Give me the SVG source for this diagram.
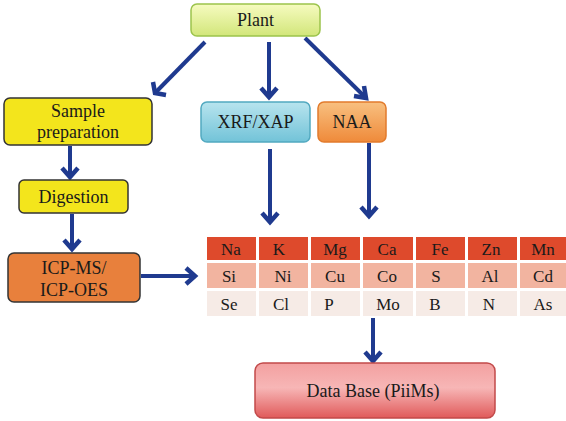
<svg xmlns="http://www.w3.org/2000/svg" width="566" height="421" viewBox="0 0 566 421">
<defs>
<linearGradient id="gPlant" x1="0" y1="0" x2="0" y2="1"><stop offset="0" stop-color="#f6fbc0"/><stop offset="1" stop-color="#d2e67a"/></linearGradient>
<linearGradient id="gXrf" x1="0" y1="0" x2="0" y2="1"><stop offset="0" stop-color="#b8e4ee"/><stop offset="1" stop-color="#72c3d8"/></linearGradient>
<linearGradient id="gNaa" x1="0" y1="0" x2="0" y2="1"><stop offset="0" stop-color="#f8c080"/><stop offset="1" stop-color="#ef8a3a"/></linearGradient>
<linearGradient id="gDb" x1="0" y1="0" x2="0" y2="1"><stop offset="0" stop-color="#f3a0a0"/><stop offset="0.45" stop-color="#f7b6b6"/><stop offset="1" stop-color="#e05a5a"/></linearGradient>
<style>
text{font-family:"Liberation Serif","DejaVu Serif",serif}
.lbl{font-size:18px;fill:#1a1a1a;text-anchor:middle}
.cell{font-size:17px;fill:#1a1a1a;text-anchor:middle}
.c{stroke:#1f3a8f;stroke-width:4;fill:none}
.h{stroke:#1f3a8f;stroke-width:4.5;fill:none;stroke-linejoin:miter;stroke-linecap:butt}
.r1{fill:#de4a2c}
.r2{fill:#f2b4a0}
.r3{fill:#f6ebe6}
</style>
</defs>
<rect width="566" height="421" fill="#ffffff"/>
<g id="connectors">
<line class="c" x1="205" y1="42" x2="156" y2="92"/>
<path class="h" d="M153,82 L155,93 L166,95"/>
<line class="c" x1="269" y1="42" x2="269" y2="96"/>
<path class="h" d="M261,88 L269,97 L277,88"/>
<line class="c" x1="305" y1="38" x2="365" y2="97"/>
<path class="h" d="M354,96 L366,98 L364,86"/>
<line class="c" x1="70" y1="146" x2="70" y2="175"/>
<path class="h" d="M62,168 L70,177 L78,168"/>
<line class="c" x1="72" y1="214" x2="72" y2="247"/>
<path class="h" d="M64,240 L72,249 L80,240"/>
<line class="c" x1="141" y1="276" x2="193" y2="276"/>
<path class="h" d="M186,268 L195,276 L186,284"/>
<line class="c" x1="270" y1="149" x2="270" y2="220"/>
<path class="h" d="M262,213 L270,222 L278,213"/>
<line class="c" x1="369" y1="143" x2="369" y2="214"/>
<path class="h" d="M361,207 L369,216 L377,207"/>
<line class="c" x1="373" y1="318" x2="373" y2="359"/>
<path class="h" d="M365,352 L373,361 L381,352"/>
</g>
<g id="plant">
<rect x="191" y="4" width="129" height="32" rx="6" fill="url(#gPlant)" stroke="#9cc44c" stroke-width="1.5"/>
<text class="lbl" x="255.5" y="26">Plant</text>
</g>
<g id="sample">
<rect x="4" y="98" width="148" height="47" rx="6" fill="#f3e51c" stroke="#333" stroke-width="1.5"/>
<text class="lbl" x="78" y="117">Sample</text>
<text class="lbl" x="78" y="138">preparation</text>
</g>
<g id="xrf">
<rect x="201" y="102" width="109" height="40" rx="6" fill="url(#gXrf)" stroke="#52a9c0" stroke-width="1.5"/>
<text class="lbl" x="255.5" y="128">XRF/XAP</text>
</g>
<g id="naa">
<rect x="318" y="102" width="68" height="40" rx="6" fill="url(#gNaa)" stroke="#e27b2c" stroke-width="1.5"/>
<text class="lbl" x="352" y="128">NAA</text>
</g>
<g id="digestion">
<rect x="19" y="180" width="109" height="33" rx="5" fill="#f3e51c" stroke="#333" stroke-width="1.5"/>
<text class="lbl" x="73.5" y="203">Digestion</text>
</g>
<g id="icp">
<rect x="8" y="253" width="132" height="49" rx="6" fill="#e8803c" stroke="#333" stroke-width="1.5"/>
<text class="lbl" x="74" y="274">ICP-MS/</text>
<text class="lbl" x="74" y="296">ICP-OES</text>
</g>
<g id="table">
<rect class="r1" x="207" y="237" width="49" height="23"/>
<rect class="r1" x="259" y="237" width="49" height="23"/>
<rect class="r1" x="311" y="237" width="49" height="23"/>
<rect class="r1" x="363" y="237" width="50" height="23"/>
<rect class="r1" x="416" y="237" width="49" height="23"/>
<rect class="r1" x="468" y="237" width="49" height="23"/>
<rect class="r1" x="520" y="237" width="46" height="23"/>
<rect class="r2" x="207" y="263" width="49" height="25"/>
<rect class="r2" x="259" y="263" width="49" height="25"/>
<rect class="r2" x="311" y="263" width="49" height="25"/>
<rect class="r2" x="363" y="263" width="50" height="25"/>
<rect class="r2" x="416" y="263" width="49" height="25"/>
<rect class="r2" x="468" y="263" width="49" height="25"/>
<rect class="r2" x="520" y="263" width="46" height="25"/>
<rect class="r3" x="207" y="291" width="49" height="25"/>
<rect class="r3" x="259" y="291" width="49" height="25"/>
<rect class="r3" x="311" y="291" width="49" height="25"/>
<rect class="r3" x="363" y="291" width="50" height="25"/>
<rect class="r3" x="416" y="291" width="49" height="25"/>
<rect class="r3" x="468" y="291" width="49" height="25"/>
<rect class="r3" x="520" y="291" width="46" height="25"/>
<text class="cell" x="231" y="255">Na</text>
<text class="cell" x="279" y="255">K</text>
<text class="cell" x="335" y="255">Mg</text>
<text class="cell" x="387" y="255">Ca</text>
<text class="cell" x="440" y="255">Fe</text>
<text class="cell" x="491" y="255">Zn</text>
<text class="cell" x="543" y="255">Mn</text>
<text class="cell" x="229" y="282">Si</text>
<text class="cell" x="283" y="282">Ni</text>
<text class="cell" x="335" y="282">Cu</text>
<text class="cell" x="387" y="282">Co</text>
<text class="cell" x="436" y="282">S</text>
<text class="cell" x="490" y="282">Al</text>
<text class="cell" x="543" y="282">Cd</text>
<text class="cell" x="229" y="310">Se</text>
<text class="cell" x="281" y="310">Cl</text>
<text class="cell" x="329" y="310">P</text>
<text class="cell" x="388" y="310">Mo</text>
<text class="cell" x="435" y="310">B</text>
<text class="cell" x="489" y="310">N</text>
<text class="cell" x="543" y="310">As</text>
</g>
<g id="database">
<rect x="255" y="363" width="240" height="55" rx="8" fill="url(#gDb)" stroke="#c24a4a" stroke-width="1.5"/>
<text class="lbl" x="373" y="397">Data Base (PiiMs)</text>
</g>
</svg>
